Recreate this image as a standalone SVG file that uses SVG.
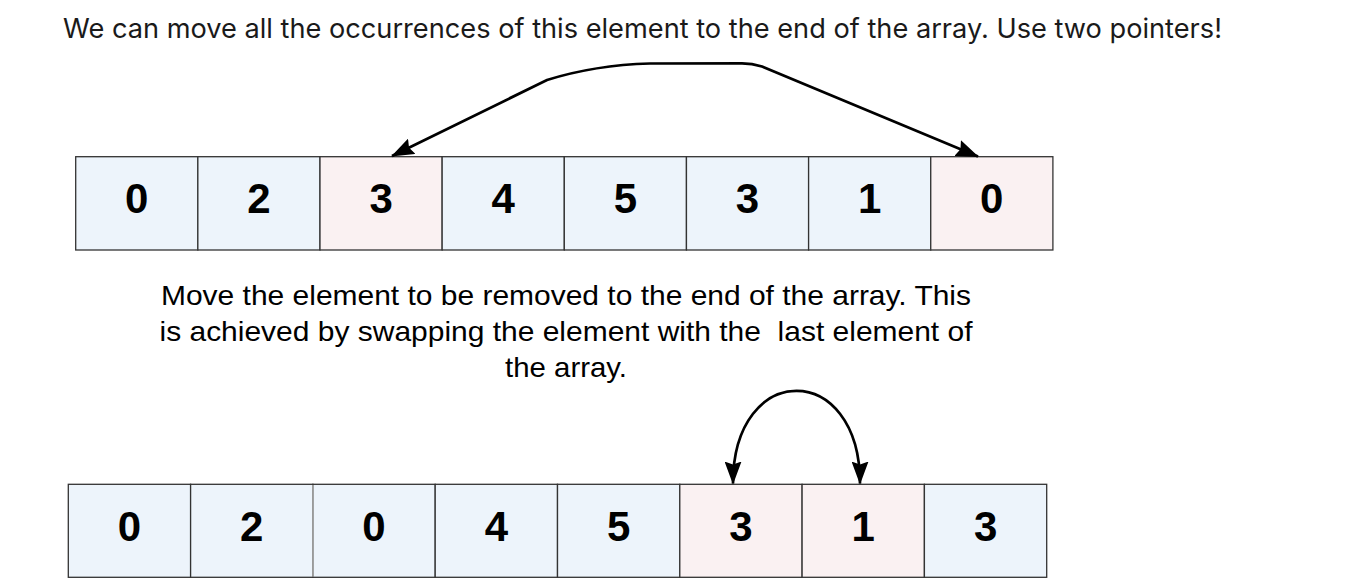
<svg xmlns="http://www.w3.org/2000/svg" width="1354" height="584" viewBox="0 0 1354 584">
<defs>
<style>
.blue{fill:#edf4fb;stroke:#333;stroke-width:1.3}
.pink{fill:#faf1f2;stroke:#333;stroke-width:1.3}
.num{font-family:"Liberation Sans",Arial,sans-serif;font-weight:bold;font-size:42px;fill:#000;text-anchor:middle}
.title{font-family:Inter,"Liberation Sans",sans-serif;font-size:27px;fill:#1a1a1a}
.note{font-family:"Liberation Sans",Arial,sans-serif;font-size:28.5px;fill:#000;text-anchor:middle}
.edge{fill:none;stroke:#000;stroke-width:2.7}
</style>
<marker id="arr" viewBox="0 0 23 17" refX="22" refY="8.5" markerWidth="23" markerHeight="17" markerUnits="userSpaceOnUse" orient="auto-start-reverse">
<path d="M0,0 L23,8.5 L0,17 L3,8.5 Z" fill="#000"/>
</marker>
</defs>
<rect width="1354" height="584" fill="#fff"/>
<text id="title" class="title" x="63" y="38" textLength="1159" lengthAdjust="spacingAndGlyphs">We can move all the occurrences of this element to the end of the array. Use two pointers!</text>
<g id="row1">
<g id="r1c0"><rect class="blue" x="75.7" y="156.7" width="122.15" height="93.3"/><text class="num" x="136.8" y="213.3">0</text></g>
<g id="r1c1"><rect class="blue" x="197.85" y="156.7" width="122.15" height="93.3"/><text class="num" x="258.9" y="213.3">2</text></g>
<g id="r1c2"><rect class="pink" x="320" y="156.7" width="122.15" height="93.3"/><text class="num" x="381.1" y="213.3">3</text></g>
<g id="r1c3"><rect class="blue" x="442.15" y="156.7" width="122.15" height="93.3"/><text class="num" x="503.2" y="213.3">4</text></g>
<g id="r1c4"><rect class="blue" x="564.3" y="156.7" width="122.15" height="93.3"/><text class="num" x="625.4" y="213.3">5</text></g>
<g id="r1c5"><rect class="blue" x="686.45" y="156.7" width="122.15" height="93.3"/><text class="num" x="747.5" y="213.3">3</text></g>
<g id="r1c6"><rect class="blue" x="808.6" y="156.7" width="122.15" height="93.3"/><text class="num" x="869.7" y="213.3">1</text></g>
<g id="r1c7"><rect class="pink" x="930.75" y="156.7" width="122.15" height="93.3"/><text class="num" x="991.8" y="213.3">0</text></g>
</g>
<g id="note">
<text class="note" x="566" y="304.7" textLength="810" lengthAdjust="spacingAndGlyphs">Move the element to be removed to the end of the array. This</text>
<text class="note" x="566" y="341" xml:space="preserve" textLength="813" lengthAdjust="spacingAndGlyphs">is achieved by swapping the element with the  last element of</text>
<text class="note" x="566" y="377" textLength="122" lengthAdjust="spacingAndGlyphs">the array.</text>
</g>
<g id="row2">
<g id="r2c0"><rect class="blue" x="68.3" y="484.3" width="122.3" height="93"/><text class="num" x="129.5" y="540.5">0</text></g>
<g id="r2c1"><rect class="blue" x="190.6" y="484.3" width="122.3" height="93"/><text class="num" x="251.8" y="540.5">2</text></g>
<g id="r2c2"><rect class="blue" x="312.9" y="484.3" width="122.3" height="93"/><text class="num" x="374" y="540.5">0</text></g>
<g id="r2c3"><rect class="blue" x="435.2" y="484.3" width="122.3" height="93"/><text class="num" x="496.4" y="540.5">4</text></g>
<g id="r2c4"><rect class="blue" x="557.5" y="484.3" width="122.3" height="93"/><text class="num" x="618.7" y="540.5">5</text></g>
<g id="r2c5"><rect class="pink" x="679.8" y="484.3" width="122.3" height="93"/><text class="num" x="741" y="540.5">3</text></g>
<g id="r2c6"><rect class="pink" x="802.1" y="484.3" width="122.3" height="93"/><text class="num" x="863.3" y="540.5">1</text></g>
<g id="r2c7"><rect class="blue" x="924.4" y="484.3" width="122.3" height="93"/><text class="num" x="985.6" y="540.5">3</text></g>
<line x1="312.9" y1="485" x2="312.9" y2="576.7" stroke="#b8b8b8" stroke-width="1.3"/>
</g>
<g id="connectors">
<path class="edge" d="M978,156.5 L762,66.5 Q752,63.3 742,63.3 L650,63.5 Q595,65 547,80 L392,156" marker-start="url(#arr)" marker-end="url(#arr)"/>
<path class="edge" d="M733,483.5 C733,360 860,360 860,483.5" marker-start="url(#arr)" marker-end="url(#arr)"/>
</g>
</svg>
